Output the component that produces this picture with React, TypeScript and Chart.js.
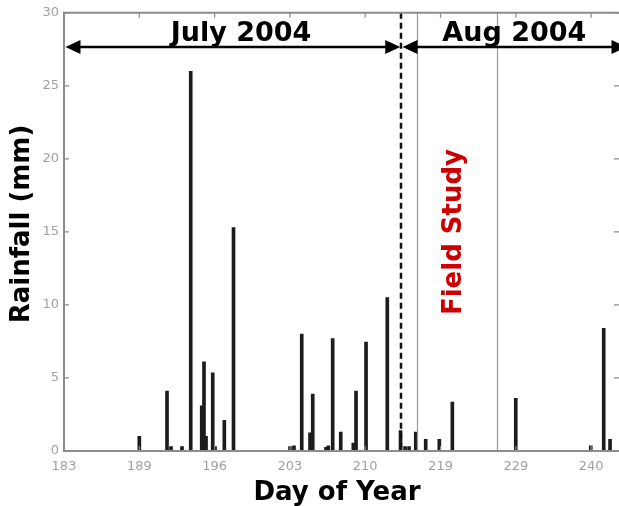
import React, { useEffect, useRef } from "react";
import { Chart, registerables } from "chart.js";

Chart.register(...registerables);

// x-axis tick labels (equally spaced on the original axis)
const tickLabels = ["183", "189", "196", "203", "210", "219", "229", "240"];
// bar positions, in units of tick intervals from the first tick
const barPos = [
  1.0, 1.368, 1.421, 1.567, 1.683, 1.829, 1.859, 1.886, 1.975, 2.005, 2.129, 2.251,
  3.001, 3.054, 3.157, 3.267, 3.303, 3.479, 3.51, 3.568, 3.675, 3.842, 3.878, 4.011,
  4.293, 4.469, 4.529, 4.582, 4.671, 4.803, 4.984, 5.157, 5.999, 6.995, 7.167, 7.251,
];
// rainfall (mm)
const rainMm = [
  1.0, 4.1, 0.3, 0.3, 26.0, 3.1, 6.1, 1.0, 5.35, 0.3, 2.1, 15.3,
  0.3, 0.35, 8.0, 1.25, 3.9, 0.25, 0.35, 7.7, 1.3, 0.55, 4.1, 7.45,
  10.5, 1.4, 0.3, 0.3, 1.3, 0.8, 0.8, 3.35, 3.6, 0.35, 8.4, 0.8,
];
const monthBoundary = 4.475;
const fieldStudy = [4.684, 5.746];
const months = [
  { label: "July 2004", from: 0.02, to: monthBoundary - 0.01, center: 2.35 },
  { label: "Aug 2004", from: monthBoundary + 0.02, to: 7.47, center: 5.98 },
];
const xMax = 7.37;

const decor = {
  id: "decor",
  afterDatasetsDraw(chart: any) {
    const { ctx, chartArea, scales } = chart;
    const { left, right, top, bottom } = chartArea;
    const x = scales.x;
    const y = scales.y;
    ctx.save();

    // field study lines
    ctx.strokeStyle = "#9a9a9a";
    ctx.lineWidth = 1.2;
    fieldStudy.forEach((v) => {
      const px = Math.round(x.getPixelForValue(v)) + 0.5;
      ctx.beginPath();
      ctx.moveTo(px, top);
      ctx.lineTo(px, bottom);
      ctx.stroke();
    });

    // month boundary dashed
    const bx = x.getPixelForValue(monthBoundary);
    ctx.strokeStyle = "#111";
    ctx.lineWidth = 2.5;
    ctx.setLineDash([6, 4]);
    ctx.beginPath();
    ctx.moveTo(bx, top);
    ctx.lineTo(bx, bottom);
    ctx.stroke();
    ctx.setLineDash([]);

    // frame
    ctx.strokeStyle = "#8c8c8c";
    ctx.lineWidth = 2;
    ctx.beginPath();
    ctx.moveTo(right + 2, top);
    ctx.lineTo(left, top);
    ctx.lineTo(left, bottom);
    ctx.lineTo(right + 2, bottom);
    ctx.stroke();

    // tick marks
    ctx.lineWidth = 1.2;
    x.ticks.forEach((t: any) => {
      if (tickLabels[t.value] === undefined) return;
      const px = x.getPixelForValue(t.value);
      ctx.beginPath();
      ctx.moveTo(px, top);
      ctx.lineTo(px, top + 5);
      ctx.moveTo(px, bottom);
      ctx.lineTo(px, bottom - 5);
      ctx.stroke();
    });
    y.ticks.forEach((t: any) => {
      const py = y.getPixelForValue(t.value);
      ctx.beginPath();
      ctx.moveTo(left, py);
      ctx.lineTo(left + 5, py);
      ctx.moveTo(right, py);
      ctx.lineTo(right - 5, py);
      ctx.stroke();
    });

    // month arrows
    const ay = 47;
    ctx.strokeStyle = "#000";
    ctx.fillStyle = "#000";
    ctx.lineWidth = 2.5;
    months.forEach((m) => {
      const x1 = x.getPixelForValue(m.from);
      const x2 = x.getPixelForValue(m.to);
      ctx.beginPath();
      ctx.moveTo(x1 + 10, ay);
      ctx.lineTo(x2 - 10, ay);
      ctx.stroke();
      ctx.beginPath();
      ctx.moveTo(x1, ay);
      ctx.lineTo(x1 + 15, ay - 7);
      ctx.lineTo(x1 + 15, ay + 7);
      ctx.closePath();
      ctx.fill();
      ctx.beginPath();
      ctx.moveTo(x2, ay);
      ctx.lineTo(x2 - 15, ay - 7);
      ctx.lineTo(x2 - 15, ay + 7);
      ctx.closePath();
      ctx.fill();
      ctx.font = 'bold 27px "DejaVu Sans"';
      ctx.textAlign = "center";
      ctx.textBaseline = "alphabetic";
      ctx.fillText(m.label, x.getPixelForValue(m.center), 41);
    });

    // Field Study label
    ctx.fillStyle = "#cc0000";
    ctx.font = 'bold 26px "DejaVu Sans"';
    ctx.save();
    const fx = (x.getPixelForValue(fieldStudy[0]) + x.getPixelForValue(fieldStudy[1])) / 2;
    ctx.translate(fx + 4, 232);
    ctx.rotate(-Math.PI / 2);
    ctx.textAlign = "center";
    ctx.textBaseline = "alphabetic";
    ctx.fillText("Field Study", 0, 0);
    ctx.restore();

    // axis titles
    ctx.fillStyle = "#000";
    ctx.font = 'bold 26px "DejaVu Sans"';
    ctx.textAlign = "center";
    ctx.textBaseline = "alphabetic";
    ctx.fillText("Day of Year", 337, 500);
    ctx.save();
    ctx.translate(29, 224);
    ctx.rotate(-Math.PI / 2);
    ctx.fillText("Rainfall (mm)", 0, 0);
    ctx.restore();

    ctx.restore();
  },
};

export default function App() {
  const ref = useRef<HTMLCanvasElement>(null);
  useEffect(() => {
    if (!ref.current) return;
    Chart.defaults.font.family = '"DejaVu Sans"';
    const chart = new Chart(ref.current, {
      type: "bar",
      data: {
        datasets: [
          {
            data: barPos.map((p, i) => ({ x: p, y: rainMm[i] })),
            backgroundColor: "#1c1c1c",
            barThickness: 3,
          },
        ],
      },
      options: {
        animation: false,
        responsive: true,
        maintainAspectRatio: false,
        layout: { padding: { top: 12, left: 0, right: 0, bottom: 0 } },
        plugins: { legend: { display: false }, tooltip: { enabled: false } },
        scales: {
          x: {
            type: "linear",
            min: 0,
            max: xMax,
            offset: false,
            grid: { display: false, drawTicks: false, offset: false },
            border: { display: false },
            ticks: {
              stepSize: 1,
              includeBounds: false,
              autoSkip: false,
              maxRotation: 0,
              padding: 8,
              color: "#a0a0a0",
              font: { size: 13 },
              callback: (v: any) => tickLabels[v as number] ?? "",
            },
            afterFit: (s: any) => {
              s.height = 55;
            },
          },
          y: {
            min: 0,
            max: 30,
            grid: { display: false, drawTicks: false },
            border: { display: false },
            ticks: {
              stepSize: 5,
              padding: 5,
              color: "#a0a0a0",
              font: { size: 13 },
            },
            afterFit: (s: any) => {
              s.width = 64;
            },
          },
        },
      },
      plugins: [decor],
    });
    return () => chart.destroy();
  }, []);
  return (
    <div style={{ position: "absolute", left: 0, top: 0, width: 619, height: 506, background: "#fff" }}>
      <canvas ref={ref} />
    </div>
  );
}
